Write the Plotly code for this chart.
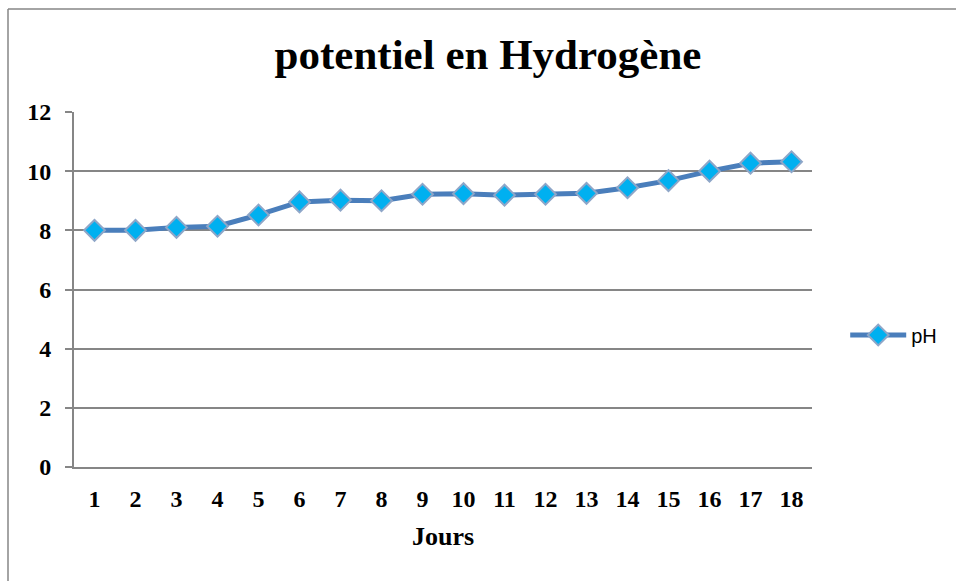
import plotly.graph_objects as go

days = [str(i) for i in range(1, 19)]
ph = [8.0, 8.0, 8.1, 8.14, 8.52, 8.96, 9.02, 9.0, 9.22, 9.24, 9.19, 9.22, 9.25, 9.44, 9.68, 10.0, 10.27, 10.32]
y_ticks = [0, 2, 4, 6, 8, 10, 12]

GRID = "#868686"
serif = "Liberation Serif"

fig = go.Figure()
fig.add_trace(go.Scatter(
    x=days, y=ph, name="pH", mode="lines+markers",
    line=dict(color="#4a7ebb", width=5),
    marker=dict(symbol="diamond", size=16, color="#00b0f0",
                line=dict(color="#8ea6c8", width=2)),
))

fig.update_layout(
    width=956, height=581,
    margin=dict(l=74, r=144, t=112, b=114),
    paper_bgcolor="white", plot_bgcolor="white",
    title=dict(text="potentiel en Hydrogène", x=488/956, xanchor="center",
               y=1 - 54/581, yanchor="middle", yref="container",
               font=dict(family=serif, size=43, color="black", weight="bold")),
    showlegend=True,
    legend=dict(x=1.045, y=(467-335)/355, xanchor="left", yanchor="middle",
                font=dict(family="Liberation Sans", size=20, color="black"),
                itemwidth=56, bgcolor="rgba(0,0,0,0)"),
    xaxis=dict(type="category", range=[-0.5, len(days) - 0.5], showgrid=False,
               showline=True, linecolor=GRID, linewidth=2,
               ticks="", tickfont=dict(family=serif, size=24, color="black", weight="bold"),
               ticklabelstandoff=9,
               title=dict(text="Jours", standoff=16,
                          font=dict(family=serif, size=26, color="black", weight="bold"))),
    yaxis=dict(range=[0, 12], tickvals=y_ticks, showgrid=True, gridcolor=GRID, gridwidth=1.5,
               showline=True, linecolor=GRID, linewidth=2, zeroline=False,
               ticks="outside", ticklen=7, tickcolor=GRID, tickwidth=1.5,
               ticklabelstandoff=9,
               tickfont=dict(family=serif, size=24, color="black", weight="bold")),
    shapes=[
        dict(type="line", xref="paper", yref="paper", x0=(8-74)/738, x1=(956-74)/738,
             y0=(467-9)/355, y1=(467-9)/355, line=dict(color=GRID, width=1.5)),
        dict(type="line", xref="paper", yref="paper", x0=(8-74)/738, x1=(8-74)/738,
             y0=(467-9)/355, y1=(467-581)/355, line=dict(color=GRID, width=1.5)),
    ],
)

fig.write_html("out.html", config={"displayModeBar": False},
               post_script="document.body.style.margin='0';document.body.style.overflow='hidden';")
